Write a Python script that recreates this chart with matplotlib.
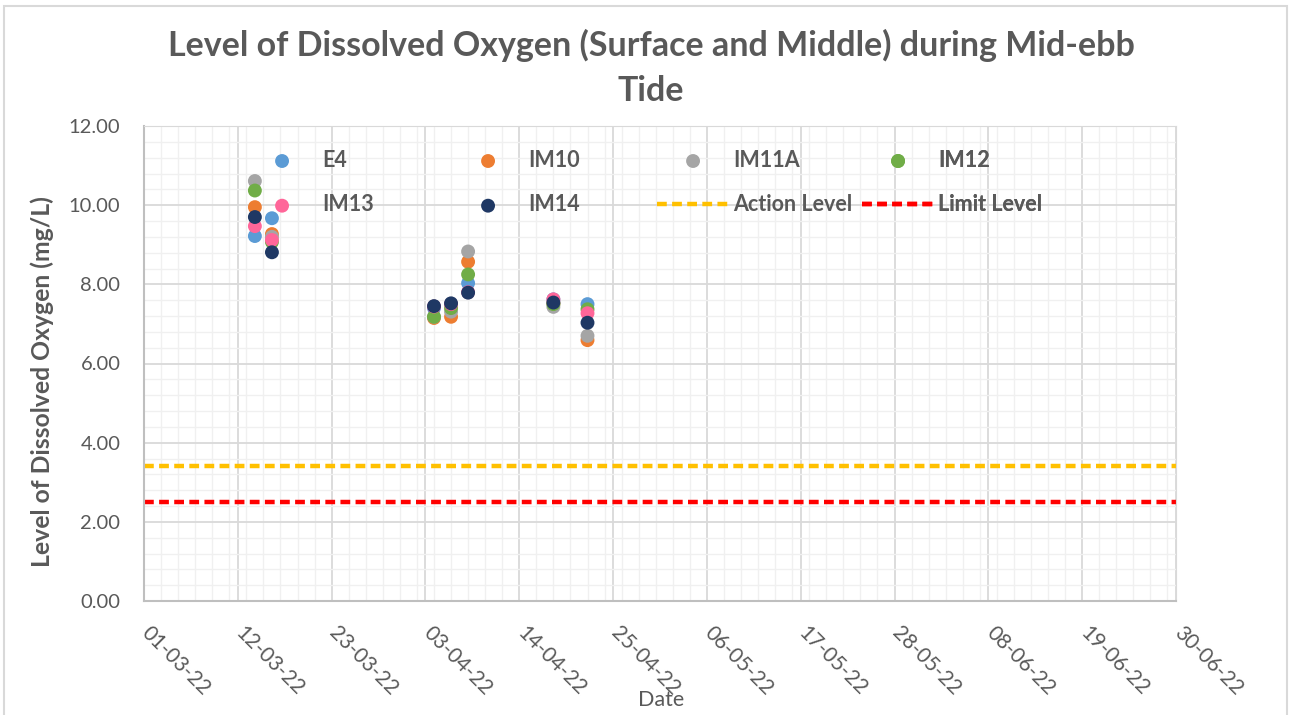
import numpy as np
import pandas as pd
import matplotlib
matplotlib.use("Agg")
import matplotlib.pyplot as plt
import matplotlib.dates as mdates
from matplotlib.patches import Rectangle
from matplotlib.transforms import ScaledTranslation

plt.rcParams['font.family'] = ['Lato', 'DejaVu Sans']

# sampling dates and dissolved oxygen readings (mg/L) per station
dates = pd.to_datetime(['2022-03-14', '2022-03-16', '2022-04-04', '2022-04-06',
                        '2022-04-08', '2022-04-18', '2022-04-22'])
e4    = [9.22, 9.67, 7.40, 7.50, 8.03, 7.62, 7.50]
im10  = [9.95, 9.27, 7.15, 7.18, 8.57, 7.52, 6.59]
im11a = [10.61, 9.20, 7.18, 7.31, 8.83, 7.43, 6.70]
im12  = [10.37, 9.07, 7.18, 7.40, 8.25, 7.50, 7.37]
im13  = [9.47, 9.12, 7.44, 7.50, 7.80, 7.62, 7.27]
im14  = [9.70, 8.81, 7.45, 7.52, 7.79, 7.54, 7.03]

stations = ['E4', 'IM10', 'IM11A', 'IM12', 'IM13', 'IM14']
colors = ['#5B9BD5', '#ED7D31', '#A5A5A5', '#70AD47', '#FF6699', '#1F3864']
action_level = 3.4
limit_level = 2.5

x_start = pd.Timestamp('2022-03-01')
x_end = pd.Timestamp('2022-06-30')

grey = '#595959'

fig = plt.figure(figsize=(12.91, 7.15), dpi=100)
ax = fig.add_axes([144/1291, 1-601/715, 1032/1291, 475/715])

handles = []
for name, vals, c in zip(stations, [e4, im10, im11a, im12, im13, im14], colors):
    h = ax.scatter(dates, vals, s=100, color=c, edgecolors='none', zorder=3, label=name)
    handles.append(h)

la, = ax.plot([x_start, x_end], [action_level]*2, color='#FFC000', lw=3.2,
              linestyle=(0, (2.2, 1.2)), zorder=2, label='Action Level')
ll, = ax.plot([x_start, x_end], [limit_level]*2, color='#FF0000', lw=3.2,
              linestyle=(0, (2.2, 1.2)), zorder=2, label='Limit Level')
handles += [la, ll]

ax.set_xlim(x_start, x_end)
ax.set_ylim(0, 12)
ax.set_xticks(pd.date_range(x_start, x_end, freq='11D'))
ax.set_xticks(pd.date_range(x_start, x_end, freq='2D'), minor=True)
ax.xaxis.set_major_formatter(mdates.DateFormatter('%d-%m-%y'))
ax.set_yticks(np.arange(0, 12.1, 2))
ax.set_yticks(np.arange(0, 12.1, 0.4), minor=True)
ax.yaxis.set_major_formatter(matplotlib.ticker.FormatStrFormatter('%.2f'))

ax.grid(which='major', color='#D9D9D9', lw=1.3, zorder=0)
ax.grid(which='minor', color='#F0F0F0', lw=1.0, zorder=0)
ax.set_axisbelow(True)
for side in ['top', 'right']:
    ax.spines[side].set_color('#D9D9D9')
for side in ['left', 'bottom']:
    ax.spines[side].set_color('#BFBFBF')
    ax.spines[side].set_linewidth(1.5)

ax.tick_params(which='both', length=0)
ax.tick_params(axis='y', labelsize=14.5, labelcolor=grey, pad=17)
ax.tick_params(axis='x', labelsize=15, labelcolor=grey, pad=21)
off = ScaledTranslation(1/100, 0, fig.dpi_scale_trans)
for lbl in ax.get_xticklabels():
    lbl.set_rotation(-45)
    lbl.set_ha('left')
    lbl.set_va('center')
    lbl.set_rotation_mode('anchor')
    lbl.set_transform(lbl.get_transform() + off)

# legend: four columns of two entries, laid out like the Excel one
cols = [[0, 4], [1, 5], [2, 6], [3, 7]]
col_x = [246, 452, 657, 862]
for idx, px in zip(cols, col_x):
    leg = ax.legend([handles[i] for i in idx], [handles[i].get_label() for i in idx],
                    loc='center left', bbox_to_anchor=((px-144)/1032, (601-182.5)/475),
                    frameon=False, borderpad=0, borderaxespad=0,
                    handlelength=3.35, handletextpad=0.2, labelspacing=1.1,
                    scatterpoints=1, prop={'size': 15.5, 'weight': 'bold'},
                    labelcolor=grey)
    ax.add_artist(leg)

fig.text(651/1291, 1-67.5/715,
         'Level of Dissolved Oxygen (Surface and Middle) during Mid-ebb\nTide',
         ha='center', va='center', fontsize=24.5, fontweight='bold', color=grey,
         linespacing=1.5)
fig.text(42/1291, 1-382/715, 'Level of Dissolved Oxygen (mg/L)', rotation=90,
         ha='center', va='center', fontsize=17.8, fontweight='bold', color=grey)
fig.text(661/1291, 1-700/715, 'Date', ha='center', va='center',
         fontsize=15.5, color=grey)

fig.patches.append(Rectangle((4/1291, -0.02), 1283/1291, 1.02-6/715,
                             transform=fig.transFigure, fill=False,
                             edgecolor='#D9D9D9', lw=1.5))

fig.savefig('out.png', dpi=100)
